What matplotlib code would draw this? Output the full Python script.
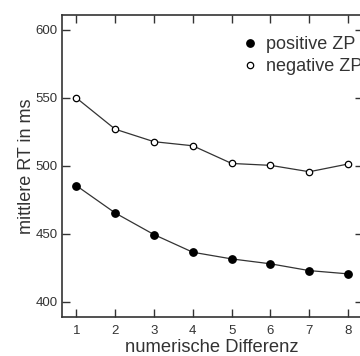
import matplotlib.pyplot as plt

plt.rcParams['font.family'] = ['Liberation Sans', 'DejaVu Sans']

differenz = [1, 2, 3, 4, 5, 6, 7, 8]
positive_zp = [485.5, 465.4, 449.5, 436.5, 431.6, 428.0, 423.0, 420.6]
negative_zp = [550.0, 527.0, 517.8, 514.8, 501.8, 500.4, 495.7, 501.4]

grey = '#333333'

fig = plt.figure(figsize=(3.6, 3.56), dpi=100)
ax = fig.add_axes([0.171, 0.110, 0.837, 0.848])

ax.plot(differenz, positive_zp, color=grey, lw=0.9, marker='o', ms=5.3,
        mfc='black', mec='black', label='positive ZP')
ax.plot(differenz, negative_zp, color=grey, lw=0.9, marker='o', ms=4.6,
        mfc='white', mec='black', mew=0.9, label='negative ZP')

ax.set_xlim(0.62, 8.38)
ax.set_ylim(389, 611)
ax.set_xticks(differenz)
ax.set_yticks([400, 450, 500, 550, 600])

ax.tick_params(direction='in', length=6, width=1, color=grey,
               top=True, right=True, labelsize=9.5, labelcolor=grey)
ax.tick_params(axis='x', pad=6)
ax.tick_params(axis='y', pad=3)
for s in ax.spines.values():
    s.set_color(grey)
    s.set_linewidth(1.2)

ax.set_xlabel('numerische Differenz', fontsize=13.2, color=grey, labelpad=1.5)
ax.set_ylabel('mittlere RT in ms', fontsize=13, color=grey, labelpad=0)

ax.legend(loc='upper left', bbox_to_anchor=(0.607, 0.93), frameon=False,
          fontsize=13, handlelength=0.6, handletextpad=0.6, labelspacing=0.28,
          labelcolor=grey, borderaxespad=0, borderpad=0)
for h in ax.get_legend().get_lines():
    h.set_linestyle('none')

fig.savefig('out.png', dpi=100)
